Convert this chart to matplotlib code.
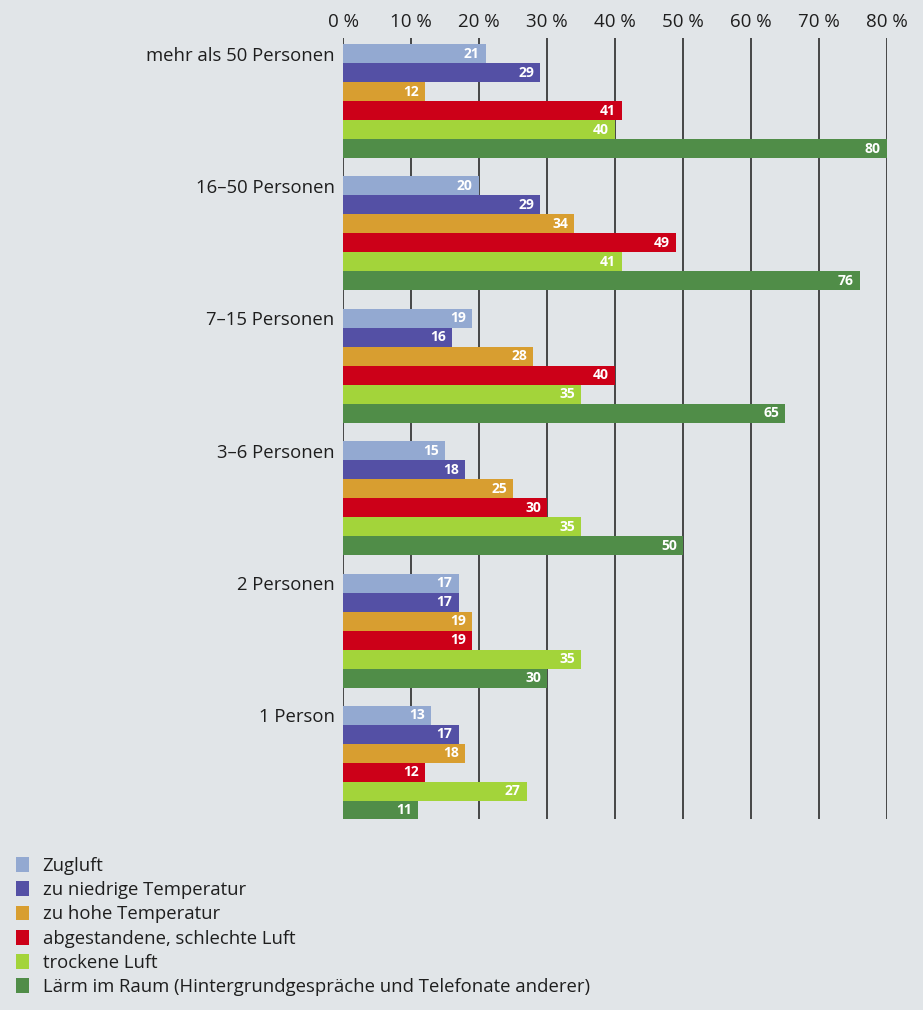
import matplotlib
matplotlib.use("Agg")
import matplotlib.pyplot as plt
from matplotlib.patches import Patch
import numpy as np

plt.rcParams['font.family'] = ['Open Sans', 'DejaVu Sans']

# data
groups = ["mehr als 50 Personen", "16\u201350 Personen", "7\u201315 Personen",
          "3\u20136 Personen", "2 Personen", "1 Person"]
series = ["Zugluft", "zu niedrige Temperatur", "zu hohe Temperatur",
          "abgestandene, schlechte Luft", "trockene Luft",
          "L\u00e4rm im Raum (Hintergrundgespr\u00e4che und Telefonate anderer)"]
zugluft = [21, 20, 19, 15, 17, 13]
zu_niedrig = [29, 29, 16, 18, 17, 17]
zu_hoch = [12, 34, 28, 25, 19, 18]
abgestanden = [41, 49, 40, 30, 19, 12]
trocken = [40, 41, 35, 35, 35, 27]
laerm = [80, 76, 65, 50, 30, 11]
values = [zugluft, zu_niedrig, zu_hoch, abgestanden, trocken, laerm]
colors = ["#93a9d1", "#5450a5", "#d89e30", "#cc0018", "#a3d43a", "#508d48"]
x_ticks = [0, 10, 20, 30, 40, 50, 60, 70, 80]

bg = "#e1e5e8"
txt = "#1e1e1e"
fig = plt.figure(figsize=(9.23, 10.10), dpi=100, facecolor=bg)
ax = fig.add_axes([343/923, 191/1010, 544/923, 781/1010])
ax.set_facecolor(bg)

bar_h = 0.1435
centers = np.arange(len(groups))
for k, (vals, col) in enumerate(zip(values, colors)):
    ys = centers - 2.5 * bar_h + k * bar_h
    ax.barh(ys, vals, height=bar_h, color=col, zorder=3, linewidth=0)
    for y, v in zip(ys, vals):
        ax.text(v - 0.9, y, str(v), ha="right", va="center", color="white",
                fontsize=10, fontweight="bold", zorder=4)

ax.set_xlim(0, 80)
ax.set_ylim(5.423, -0.476)

ax.xaxis.tick_top()
ax.set_xticks(x_ticks)
ax.set_xticklabels([f"{t} %" for t in x_ticks], fontsize=13.5, color=txt)
ax.tick_params(axis="x", length=0, pad=5)
ax.set_yticks(centers - 2.5 * bar_h)
ax.set_yticklabels(groups, fontsize=13.3, color=txt)
ax.tick_params(axis="y", length=0, pad=6)

for t in x_ticks:
    ax.axvline(t, color="#2b2b2b", linewidth=1.2, zorder=2)
for s in ax.spines.values():
    s.set_visible(False)

handles = [Patch(facecolor=c, edgecolor="none") for c in colors]
fig.legend(handles, series, loc="upper left", bbox_to_anchor=(16/923, 1 - 857/1010),
           frameon=False, fontsize=13.3, handlelength=0.72, handleheight=0.85,
           handletextpad=0.72, labelspacing=0.335, borderaxespad=0, borderpad=0,
           labelcolor=txt)

fig.savefig("out.png", dpi=100, facecolor=bg)
